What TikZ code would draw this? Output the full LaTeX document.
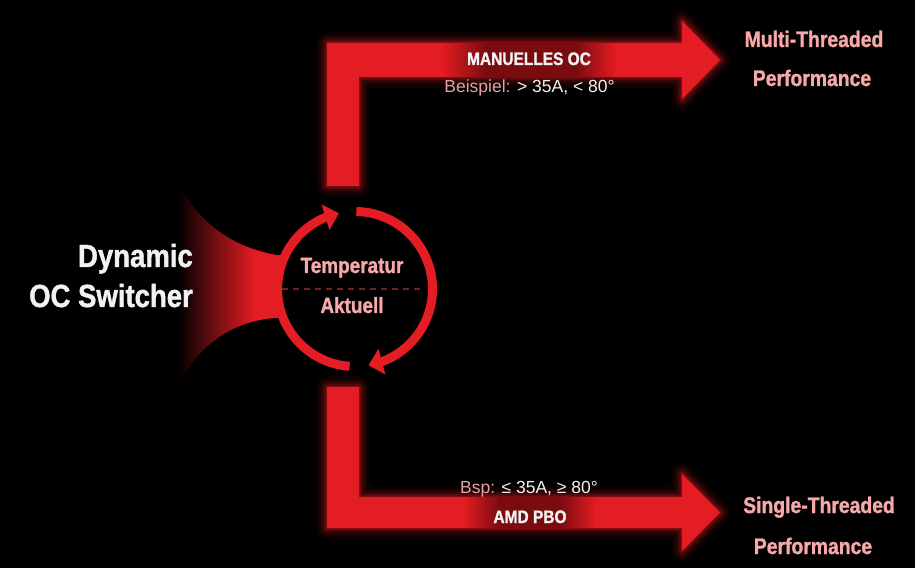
\documentclass[tikz,border=0pt]{standalone}
\usepackage{fontspec}
\setmainfont{Liberation Sans}
\newfontfamily\condbold[FakeStretch=0.86, FakeBold=1.2]{Liberation Sans Bold}
\usetikzlibrary{arrows.meta,bending,fadings}
\definecolor{ocred}{RGB}{228,28,35}
\definecolor{ocdark}{RGB}{122,12,16}
\definecolor{ocpink}{RGB}{247,168,168}
\definecolor{ocdash}{RGB}{115,32,32}
\definecolor{ocwhite}{RGB}{242,242,242}
\definecolor{ocsoft}{RGB}{232,160,160}
\pgfdeclarehorizontalshading{fanshade}{100bp}{color(0bp)=(black); color(25bp)=(black); color(60bp)=(ocred); color(100bp)=(ocred)}
\tikzfading[name=fadeinright, left color=transparent!100, right color=transparent!0]
\tikzfading[name=fadeoutright, left color=transparent!0, right color=transparent!100]
\newcommand\ArrowTopShape{(327,382) -- (327,525) -- (682,525) -- (682,547) -- (720,508) -- (682,469) -- (682,491) -- (359,491) -- (359,382) -- cycle}
\newcommand\ArrowBotShape{(327,181) -- (327,40) -- (682,40) -- (682,17) -- (720,55.5) -- (682,94) -- (682,71) -- (359,71) -- (359,181) -- cycle}
\tikzset{
  titletext/.style={font=\condbold\fontsize{32}{36}\selectfont, text=ocwhite, inner sep=0pt},
  ringtext/.style={font=\condbold\fontsize{22}{26}\selectfont, text=ocpink, inner sep=0pt},
  bartext/.style={font=\condbold\fontsize{18}{22}\selectfont, text=ocwhite, inner sep=0pt},
  condtext/.style={font=\fontsize{17.5}{21}\selectfont, text=ocwhite, inner sep=0pt},
  outtext/.style={font=\condbold\fontsize{22.5}{26}\selectfont, text=ocpink, inner sep=0pt},
  ringline/.style={draw=ocred, line width=9pt, -{Triangle[width=26pt,length=14pt]}},
  glowline/.style={draw=ocred, line join=round},
  bandfill/.style={fill=ocdark},
}
\begin{document}
\begin{tikzpicture}[x=1pt,y=1pt]
\fill[black] (0,0) rectangle (915,568);
\useasboundingbox (0,0) rectangle (915,568);

% glow
\foreach \w/\o in {22/0.05,16/0.08,11/0.12,6/0.18,3/0.25}{
  \draw[glowline, line width=\w pt, opacity=\o] \ArrowTopShape;
  \draw[glowline, line width=\w pt, opacity=\o] \ArrowBotShape;
}
% arrows
\fill[ocred] \ArrowTopShape;
\fill[ocred] \ArrowBotShape;
% label bands (dark overlay fading out to the bar colour)
\path[bandfill, path fading=fadeinright] (442,491) rectangle (486,525);
\path[bandfill] (485,491) rectangle (576,525);
\path[bandfill, path fading=fadeoutright] (575,491) rectangle (616,525);
\path[bandfill, path fading=fadeinright] (464,40) rectangle (500,71);
\path[bandfill] (499,40) rectangle (561,71);
\path[bandfill, path fading=fadeoutright] (560,40) rectangle (596,71);

% fan
\shade[shading=fanshade] (178,385) .. controls (200,343) and (235,320) .. (277,313) -- (286,313) -- (286,250) -- (277,250) .. controls (235,248) and (200,225) .. (178,183) -- cycle;

% ring
\coordinate (ring) at (355,279);
\fill[black] (ring) circle[radius=73];
\draw[ringline] ([shift={(89:77.5)}]ring) arc[start angle=89, end angle=-80, radius=77.5];
\draw[ringline] ([shift={(-94:77.5)}]ring) arc[start angle=-94, end angle=-258, radius=77.5];
\coordinate (dashL) at (282,279);
\coordinate (dashR) at (423,279);
\draw[ocdash, line width=1.5pt, dash pattern=on 6pt off 5pt] (dashL) -- (dashR);

% texts
\node[titletext, anchor=base east] (dyn) at (193,301) {Dynamic};
\node[titletext, anchor=base east] (ocs) at (193,261) {OC Switcher};
\node[ringtext, anchor=base] (temp) at (352,295) {Temperatur};
\node[ringtext, anchor=base] (akt) at (352,255) {Aktuell};

\node[bartext, anchor=base] (man) at (529,503) {MANUELLES OC};
\node[condtext, anchor=base] (bei) at (529.5,475) {\textcolor{ocsoft}{Beispiel:} > 35A, < 80°};
\node[condtext, anchor=base] (bsp) at (529,75) {\textcolor{ocsoft}{Bsp:} ≤ 35A, ≥ 80°};
\node[bartext, anchor=base] (pbo) at (530,45) {AMD PBO};

\node[outtext, anchor=base] (mt1) at (814,521) {Multi-Threaded};
\node[outtext, anchor=base] (mt2) at (812,482) {Performance};
\node[outtext, anchor=base] (st1) at (819,55) {Single-Threaded};
\node[outtext, anchor=base] (st2) at (813,14) {Performance};
\end{tikzpicture}
\end{document}
